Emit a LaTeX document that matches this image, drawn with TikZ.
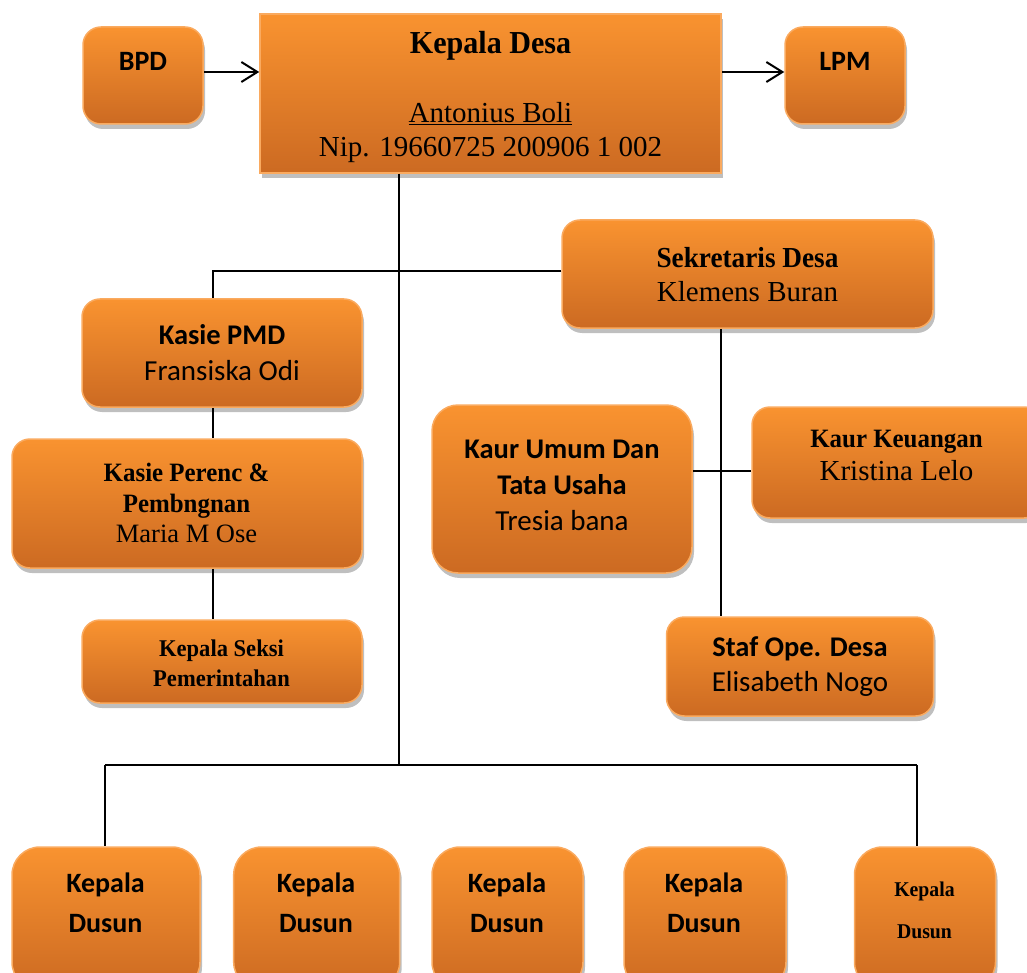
\documentclass[tikz,border=0pt]{standalone}
\usepackage{fontspec}
\setmainfont{Liberation Serif}
\newfontfamily\calibri{Carlito}
\newcommand{\hcal}{\calibri\bfseries}
\newfontfamily\hser[FakeStretch=0.94]{Liberation Serif Bold}
\usetikzlibrary{arrows.meta,shadows}
\definecolor{otop}{RGB}{249,147,48}
\definecolor{obot}{RGB}{204,106,34}
\definecolor{oedge}{RGB}{250,170,95}
\begin{document}
\begin{tikzpicture}[x=1pt,y=-1pt,
  box/.style={draw=oedge, line width=1.5pt, top color=otop, bottom color=obot,
    rounded corners=18pt, inner sep=0pt,
    drop shadow={shadow xshift=2pt, shadow yshift=-5pt, opacity=0.25, fill=black}},
  txt/.style={anchor=north, align=center, inner sep=0pt, text=black},
  ln/.style={line width=2pt, black},
  arr/.style={ln, -{Straight Barb[length=16pt, width=20pt, line width=2pt]}}]
\useasboundingbox (0,0) rectangle (1027,973);
\clip (0,0) rectangle (1027,973);

% boxes
\node[box, minimum width=120pt, minimum height=97pt] (bpd) at (143,75.5) {};
\node[box, rounded corners=0pt, minimum width=461pt, minimum height=159pt] (kd) at (490.5,93.5) {};
\node[box, minimum width=120pt, minimum height=97pt] (lpm) at (845,75.5) {};
\node[box, minimum width=371pt, minimum height=108pt] (sek) at (747.5,274) {};
\node[box, minimum width=280pt, minimum height=108pt] (pmd) at (222,353) {};
\node[box, minimum width=350pt, minimum height=129pt] (per) at (187,503.5) {};
\node[box, minimum width=280pt, minimum height=83pt] (seksi) at (222,661.5) {};
\node[box, rounded corners=26pt, minimum width=260pt, minimum height=168pt] (umum) at (562,489) {};
\node[box, minimum width=290pt, minimum height=111pt] (keu) at (897,462.5) {};
\node[box, minimum width=267pt, minimum height=99pt] (staf) at (800,666.5) {};
\node[box, rounded corners=28pt, minimum width=188pt, minimum height=143pt] (d1) at (106,918.5) {};
\node[box, rounded corners=28pt, minimum width=166pt, minimum height=143pt] (d2) at (316.7,918.5) {};
\node[box, rounded corners=28pt, minimum width=151pt, minimum height=143pt] (d3) at (507.5,918.5) {};
\node[box, rounded corners=28pt, minimum width=162pt, minimum height=143pt] (d4) at (705,918.5) {};
\node[box, rounded corners=28pt, minimum width=141pt, minimum height=143pt] (d5) at (925,918.5) {};

% texts
\node[txt, anchor=base, font=\hcal\fontsize{28}{34}\selectfont] (bpdt) at (143,71) {BPD};
\node[txt, anchor=base, font=\hcal\fontsize{28}{34}\selectfont] (lpmt) at (845,71) {LPM};
\node[txt, font=\fontsize{29}{34}\selectfont] (kdt) at (490.5,29.2)
  {{\hser\fontsize{32}{34}\selectfont\strut Kepala Desa}\\[35pt]\underline{Antonius Boli}\\Nip. 19660725 200906 1 002};
\node[txt, font=\fontsize{29}{34}\selectfont] (sekt) at (747.5,243.2)
  {{\hser\strut Sekretaris Desa}\\Klemens Buran};
\node[txt, font=\calibri\fontsize{29}{36}\selectfont] (pmdt) at (222,318.8)
  {{\hcal\fontsize{28.5}{36}\selectfont\strut Kasie PMD}\\Fransiska Odi};
\node[txt, font=\fontsize{26.5}{30.5}\selectfont] (pert) at (186.5,460.3)
  {{\hser\strut Kasie Perenc \&}\\{\hser Pembngnan}\\Maria M Ose};
\node[txt, font=\hser\fontsize{24}{30}\selectfont] (seksit) at (221.5,635.7)
  {\strut Kepala Seksi\\Pemerintahan};
\node[txt, font=\calibri\fontsize{29}{36}\selectfont] (umumt) at (562,432.8)
  {{\hcal\fontsize{28.5}{36}\selectfont\strut Kaur Umum Dan}\\{\hcal\fontsize{28.5}{36}\selectfont Tata Usaha}\\Tresia bana};
\node[txt, font=\fontsize{29}{33}\selectfont] (keut) at (896.5,423.9)
  {{\hser\fontsize{26.5}{33}\selectfont\strut Kaur Keuangan}\\Kristina Lelo};
\node[txt, font=\calibri\fontsize{29}{35}\selectfont] (staft) at (800,631.5)
  {{\hcal\fontsize{28.5}{35}\selectfont\strut Staf Ope. Desa}\\Elisabeth Nogo};
\node[txt, font=\hcal\fontsize{28}{40}\selectfont] (d1t) at (105.5,864.7) {\strut Kepala\\Dusun};
\node[txt, font=\hcal\fontsize{28}{40}\selectfont] (d2t) at (316,864.7) {\strut Kepala\\Dusun};
\node[txt, font=\hcal\fontsize{28}{40}\selectfont] (d3t) at (507,864.7) {\strut Kepala\\Dusun};
\node[txt, font=\hcal\fontsize{28}{40}\selectfont] (d4t) at (704,864.7) {\strut Kepala\\Dusun};
\node[txt, font=\hser\fontsize{21}{42}\selectfont] (d5t) at (924.5,867.3) {\strut Kepala\\Dusun};

% connectors
\coordinate (trunk) at (399,765);
\coordinate (busL) at (105,765);
\coordinate (busR) at (917,765);
\coordinate (secL) at (213,271);
\coordinate (secV) at (721,471);

\draw[ln] (kd.south -| trunk) -- (trunk);
\draw[ln] (busL) -- (busR);
\draw[ln] (busL) -- (busL |- d1.north);
\draw[ln] (busR) -- (busR |- d5.north);
\draw[ln] (secL -| sek.west) -- (secL) -- (secL |- pmd.north);
\draw[ln] (pmd.south -| secL) -- (per.north -| secL);
\draw[ln] (per.south -| secL) -- (seksi.north -| secL);
\draw[ln] (sek.south -| secV) -- (staf.north -| secV);
\draw[ln] (umum.east |- secV) -- (keu.west |- secV);
\draw[arr] ([yshift=3.5pt]bpd.east) -- ([yshift=3.5pt]bpd.east -| kd.west);
\draw[arr] ([yshift=3.5pt]kd.east |- lpm.west) -- ([yshift=3.5pt]lpm.west);
\end{tikzpicture}
\end{document}
